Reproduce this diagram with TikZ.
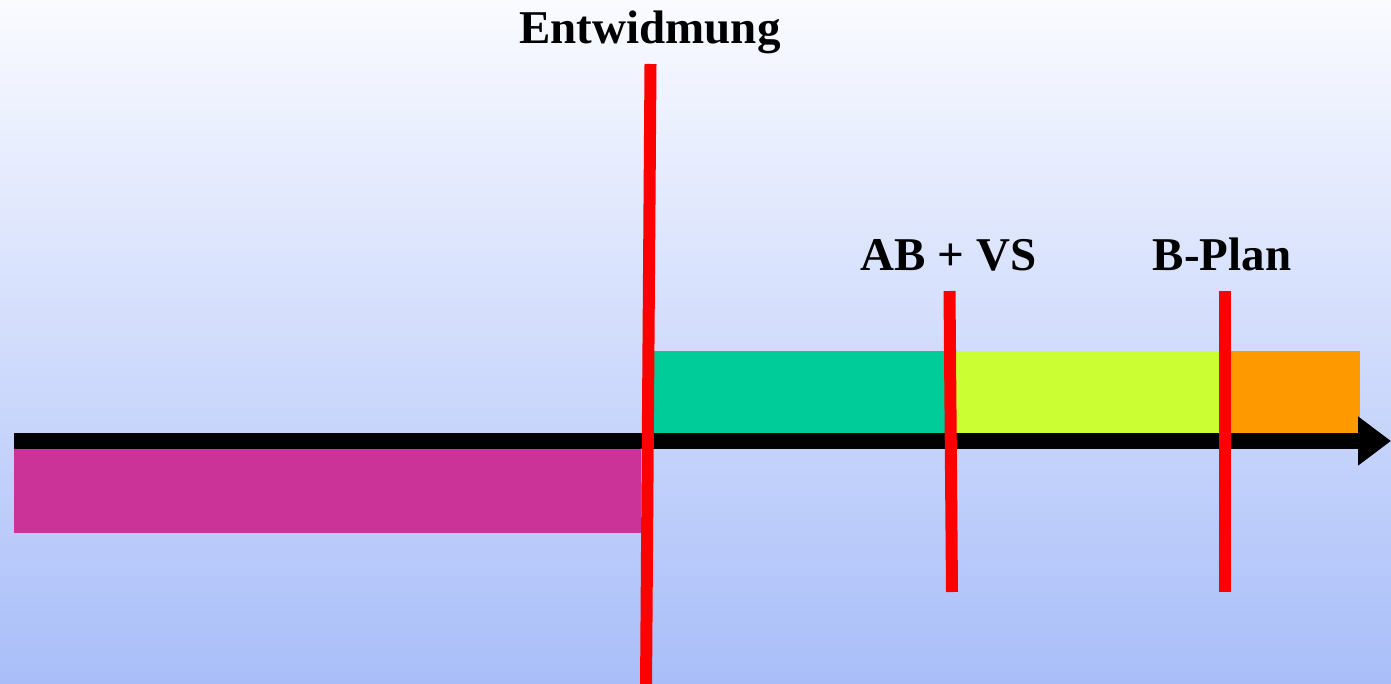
\documentclass[tikz,border=0pt]{standalone}
\usepackage{fontspec}
\setmainfont{Liberation Serif}
\usetikzlibrary{arrows.meta}

\definecolor{bgtop}{HTML}{FAFBFF}
\definecolor{bgbottom}{HTML}{A9BEF9}
\definecolor{phaseA}{HTML}{CC3399}
\definecolor{phaseB}{HTML}{00CC99}
\definecolor{phaseC}{HTML}{CCFF33}
\definecolor{phaseD}{HTML}{FF9900}

\begin{document}
\begin{tikzpicture}[x=1pt,y=-1pt,
    milestone/.style={font=\bfseries\fontsize{47}{50}\selectfont,anchor=base,inner sep=0pt},
    cut/.style={draw=red,line width=12pt}]
	\useasboundingbox (0,0) rectangle (1391,683);

	% Background
	\shade[top color=bgtop,bottom color=bgbottom] (0,0) rectangle (1391,683);

	% Phase bars above the axis
	\foreach \a/\b/\c in {654/955/phaseB,955/1225/phaseC,1225/1360/phaseD}
	\fill[\c] (\a,351) rectangle (\b,433);

	% Phase bar below the axis
	\fill[phaseA] (14,449) rectangle (641,533);

	% Time axis
	\coordinate (t0) at (14,441);
	\coordinate (t1) at (1391,441);
	\draw[line width=16pt,-{Triangle[length=33pt,width=47pt]}] (t0) -- (t1);

	% Milestones
	\node[milestone] (entw) at (650,43) {Entwidmung};
	\node[milestone] (abvs) at (948.5,270) {AB + VS};
	\node[milestone] (bplan) at (1222,270) {B-Plan};

	\coordinate (entwTop) at (650.5,64);
	\coordinate (entwBot) at (646,690);
	\coordinate (abvsTop) at (949.5,291);
	\coordinate (abvsBot) at (952,592);
	\coordinate (bplanTop) at (1225,291);
	\coordinate (bplanBot) at (1225,592);

	\foreach \m in {entw,abvs,bplan}
	\draw[cut] (\m Top) -- (\m Bot);
\end{tikzpicture}
\end{document}
